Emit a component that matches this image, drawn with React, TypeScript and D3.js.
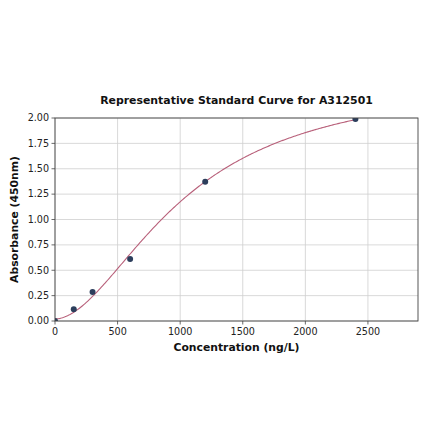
import * as d3 from "d3";
import React from "react";

// standard points
const concentrations = [0, 150, 300, 600, 1200, 2400];
const absorbances = [0.0, 0.115, 0.286, 0.612, 1.372, 1.99];
// 4PL fit parameters
const fitA = 0.02;
const fitB = 1.84;
const fitC = 1033;
const fitD = 2.4;
const xTicks = [0, 500, 1000, 1500, 2000, 2500];
const yTicks = [0, 0.25, 0.5, 0.75, 1.0, 1.25, 1.5, 1.75, 2.0];

const W = 440;
const H = 441;
const m = { l: 55, r: 22, t: 118, b: 120 };

const fourPL = (x: number) => fitD + (fitA - fitD) / (1 + Math.pow(x / fitC, fitB));

export default function App() {
  const pw = W - m.l - m.r;
  const ph = H - m.t - m.b;
  const x = d3.scaleLinear().domain([0, 2900]).range([0, pw]);
  const y = d3.scaleLinear().domain([0, 2]).range([ph, 0]);

  const curveX = d3.range(0, 2400.1, 10);
  const line = d3
    .line<number>()
    .x((d) => x(d))
    .y((d) => y(fourPL(d)));

  const font = "DejaVu Sans, sans-serif";

  return (
    <svg
      width={W}
      height={H}
      style={{ position: "absolute", left: 0, top: 0, background: "#fff" }}
      fontFamily={font}
    >
      <defs>
        <clipPath id="plot">
          <rect x={0} y={0} width={pw} height={ph} />
        </clipPath>
      </defs>
      <text x={m.l + pw / 2} y={104} textAnchor="middle" fontSize={10.9} fontWeight="bold" fill="#111">
        Representative Standard Curve for A312501
      </text>
      <g transform={`translate(${m.l},${m.t})`}>
        {xTicks.map((t) => (
          <line key={"gx" + t} x1={x(t)} x2={x(t)} y1={0} y2={ph} stroke="#cfcfcf" strokeWidth={0.8} />
        ))}
        {yTicks.map((t) => (
          <line key={"gy" + t} x1={0} x2={pw} y1={y(t)} y2={y(t)} stroke="#cfcfcf" strokeWidth={0.8} />
        ))}
        <g clipPath="url(#plot)">
          <path d={line(curveX) ?? ""} fill="none" stroke="#b8607a" strokeWidth={1.1} />
          {concentrations.map((c, i) => (
            <circle key={"p" + i} cx={x(c)} cy={y(absorbances[i])} r={3} fill="#2c3e5c" />
          ))}
        </g>
        <rect x={0} y={0} width={pw} height={ph} fill="none" stroke="#444" strokeWidth={0.9} />
        {xTicks.map((t) => (
          <g key={"tx" + t} transform={`translate(${x(t)},${ph})`}>
            <line y1={0} y2={3.5} stroke="#444" strokeWidth={0.8} />
            <text y={14} textAnchor="middle" fontSize={9.6} fill="#222">
              {t}
            </text>
          </g>
        ))}
        {yTicks.map((t) => (
          <g key={"ty" + t} transform={`translate(0,${y(t)})`}>
            <line x1={0} x2={-3.5} stroke="#444" strokeWidth={0.8} />
            <text x={-6} dy="0.34em" textAnchor="end" fontSize={9.6} fill="#222">
              {t.toFixed(2)}
            </text>
          </g>
        ))}
        <text x={pw / 2} y={ph + 30} textAnchor="middle" fontSize={10.8} fontWeight="bold" fill="#111">
          Concentration (ng/L)
        </text>
        <text
          transform={`translate(${-37},${ph / 2}) rotate(-90)`}
          textAnchor="middle"
          fontSize={10.8}
          fontWeight="bold"
          fill="#111"
        >
          Absorbance (450nm)
        </text>
      </g>
    </svg>
  );
}
